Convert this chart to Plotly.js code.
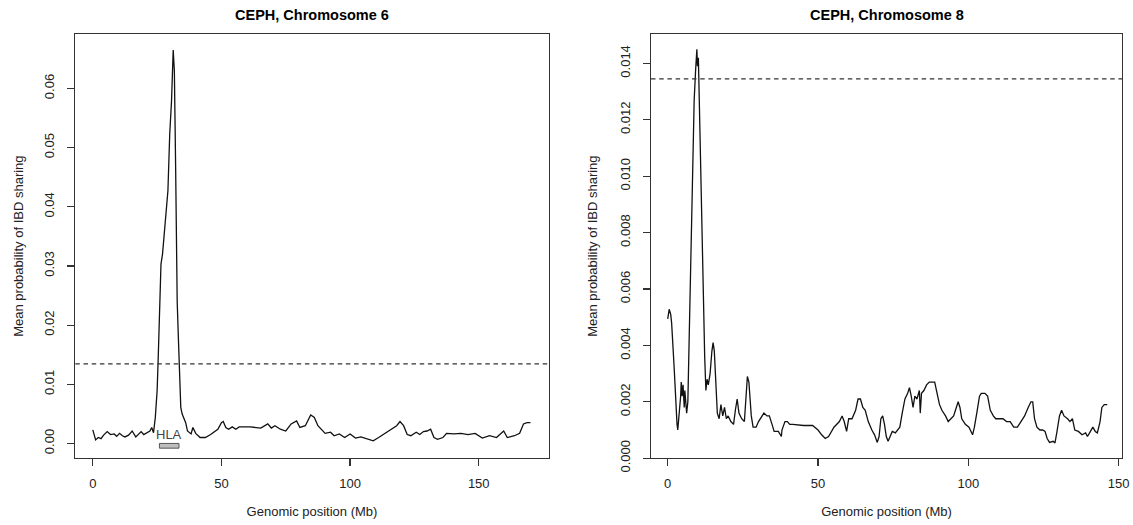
<!DOCTYPE html>
<html>
<head>
<meta charset="utf-8">
<script src="https://cdn.plot.ly/plotly-3.0.1.min.js"></script>
<style>
  html, body { margin: 0; padding: 0; background: #fff; }
  #chart { width: 1133px; height: 525px; }
</style>
</head>
<body>
<div id="chart"></div>
<script>
// ---- Data ----
const chr6Pos = [0, 1.1, 2.1, 3.2, 4.2, 5.6, 6.9, 8.3, 9.3, 10.4, 11.5, 12.5, 13.9, 15.3, 16.7, 17.8, 18.8, 19.8, 20.8, 22.2, 22.9, 23.6, 24.3, 25.0, 25.4, 26.0, 26.5, 27.1, 27.8, 28.5, 29.2, 29.9, 30.6, 31.25, 31.7, 32.2, 32.8, 33.3, 33.75, 34.2, 34.7, 36.1, 36.8, 38.2, 38.9, 40.0, 41.7, 43.75, 45.8, 47.2, 48.6, 50.0, 50.7, 51.7, 52.8, 54.2, 55.6, 56.9, 61.1, 65.3, 68.0, 69.4, 70.8, 72.9, 75.0, 77.1, 79.2, 80.5, 82.6, 84.7, 86.1, 87.5, 88.9, 90.3, 92.4, 93.8, 95.8, 97.9, 100.0, 102.1, 104.2, 107.0, 109.0, 111.1, 113.2, 115.3, 118.1, 119.4, 120.8, 122.2, 123.6, 125.7, 127.1, 128.5, 129.9, 131.3, 132.6, 134.0, 136.1, 137.5, 140.3, 143.1, 145.8, 148.6, 151.4, 154.2, 156.9, 159.7, 161.1, 163.9, 165.9, 167.4, 168.75, 170.1];
const chr6Ibd = [0.0023, 0.0006, 0.0010, 0.0008, 0.0014, 0.0020, 0.0015, 0.0016, 0.0012, 0.0017, 0.0013, 0.0011, 0.0014, 0.0021, 0.0011, 0.0016, 0.0020, 0.0015, 0.0017, 0.0021, 0.0027, 0.0018, 0.0044, 0.0089, 0.0140, 0.0240, 0.0303, 0.0320, 0.0354, 0.0382, 0.0427, 0.0523, 0.0579, 0.0665, 0.0630, 0.0466, 0.0240, 0.0174, 0.0128, 0.0061, 0.0050, 0.0035, 0.0021, 0.0016, 0.0027, 0.0017, 0.0010, 0.0010, 0.0015, 0.0019, 0.0024, 0.0035, 0.0037, 0.0027, 0.0024, 0.0028, 0.0024, 0.0028, 0.0028, 0.0026, 0.0033, 0.0026, 0.0030, 0.0024, 0.0021, 0.0033, 0.0038, 0.0027, 0.0030, 0.0048, 0.0044, 0.0030, 0.0024, 0.0017, 0.0019, 0.0013, 0.0016, 0.0010, 0.0016, 0.0009, 0.0011, 0.0007, 0.00045, 0.0010, 0.0016, 0.0021, 0.0030, 0.0037, 0.0030, 0.0015, 0.0013, 0.0019, 0.0015, 0.0020, 0.0021, 0.0024, 0.0010, 0.0007, 0.0010, 0.0017, 0.0016, 0.0017, 0.0015, 0.0017, 0.0009, 0.0013, 0.0010, 0.0021, 0.0010, 0.0013, 0.0017, 0.0033, 0.0035, 0.0035];

const chr8Pos = [0, 0.5, 1.0, 1.3, 2.15, 2.75, 3.1, 3.35, 3.7, 3.9, 4.3, 4.5, 4.8, 5.1, 5.5, 5.7, 6.1, 6.3, 6.7, 7.2, 7.8, 8.4, 8.8, 9.3, 9.7, 9.9, 10.2, 10.5, 11.1, 11.7, 12.3, 12.7, 13.1, 13.5, 14.1, 14.7, 15.1, 15.5, 15.9, 16.5, 17.1, 17.7, 18.3, 18.9, 19.5, 20.1, 21.0, 21.9, 22.5, 23.1, 23.7, 24.6, 25.5, 26.1, 26.5, 27.0, 27.8, 28.4, 29.4, 30.2, 31.4, 32.0, 33.0, 33.8, 34.7, 35.4, 36.8, 37.8, 38.0, 39.0, 39.8, 40.6, 41.6, 45.2, 48.2, 50.0, 51.2, 52.4, 53.5, 55.3, 57.1, 58.0, 58.7, 59.5, 60.2, 61.3, 62.5, 63.3, 64.1, 64.9, 65.7, 66.7, 67.9, 68.8, 69.7, 70.3, 70.9, 71.5, 72.1, 72.7, 73.3, 73.9, 74.7, 75.7, 76.5, 77.2, 78.0, 78.9, 79.8, 80.4, 81.0, 81.6, 82.2, 82.9, 83.7, 84.0, 84.4, 85.2, 86.1, 87.0, 88.0, 88.8, 89.4, 90.4, 91.2, 92.4, 93.3, 94.2, 95.1, 95.7, 96.6, 97.2, 97.8, 99.0, 100.2, 101.4, 102.0, 102.8, 103.7, 104.3, 105.5, 106.4, 107.3, 108.3, 109.1, 110.3, 111.5, 112.7, 113.9, 115.1, 116.3, 117.5, 118.7, 119.9, 120.8, 121.4, 122.0, 122.8, 123.8, 124.7, 125.5, 126.2, 127.0, 128.2, 128.8, 129.4, 130.3, 131.0, 131.8, 133.0, 133.8, 134.6, 135.4, 136.6, 137.8, 139.0, 139.6, 140.6, 141.4, 142.2, 142.9, 143.8, 144.4, 145.2, 146.2];
const chr8Ibd = [0.00494, 0.00528, 0.0051, 0.0048, 0.0032, 0.0015, 0.0012, 0.0010, 0.0014, 0.0016, 0.0022, 0.0027, 0.0022, 0.0026, 0.0018, 0.0024, 0.0020, 0.0016, 0.0020, 0.0043, 0.0079, 0.0103, 0.0127, 0.0138, 0.0145, 0.0139, 0.0142, 0.0127, 0.0097, 0.0061, 0.0036, 0.0024, 0.0028, 0.0026, 0.0030, 0.0038, 0.0041, 0.0038, 0.0029, 0.0016, 0.0014, 0.0019, 0.0015, 0.0018, 0.0014, 0.0015, 0.0013, 0.0012, 0.0017, 0.0021, 0.0016, 0.0014, 0.0013, 0.0022, 0.0029, 0.0027, 0.0015, 0.0011, 0.0011, 0.0013, 0.0015, 0.0016, 0.0015, 0.0015, 0.0012, 0.00095, 0.00095, 0.00077, 0.0010, 0.0013, 0.0013, 0.0012, 0.0012, 0.00116, 0.00116, 0.0010, 0.00083, 0.0007, 0.00077, 0.0011, 0.0013, 0.0015, 0.0013, 0.00095, 0.0014, 0.0014, 0.0017, 0.0021, 0.0021, 0.0018, 0.0017, 0.0013, 0.0010, 0.00083, 0.00056, 0.00077, 0.0014, 0.0015, 0.0012, 0.00077, 0.0006, 0.00077, 0.00095, 0.0009, 0.0010, 0.0011, 0.0016, 0.0021, 0.0023, 0.0025, 0.0022, 0.0018, 0.0022, 0.0021, 0.0024, 0.0016, 0.0023, 0.0024, 0.0026, 0.0027, 0.0027, 0.0027, 0.0024, 0.0019, 0.0017, 0.0015, 0.0013, 0.0014, 0.0015, 0.0017, 0.0020, 0.0018, 0.0014, 0.0012, 0.0011, 0.00083, 0.0011, 0.0016, 0.0022, 0.0023, 0.0023, 0.0022, 0.0017, 0.0015, 0.0014, 0.0014, 0.0014, 0.0013, 0.0013, 0.0011, 0.0011, 0.0013, 0.0015, 0.0018, 0.0020, 0.0020, 0.0014, 0.0011, 0.0010, 0.0010, 0.00095, 0.0007, 0.00056, 0.0006, 0.00054, 0.0009, 0.0015, 0.0017, 0.0015, 0.0014, 0.0013, 0.0014, 0.0010, 0.00095, 0.00083, 0.0009, 0.00077, 0.00095, 0.0011, 0.00095, 0.0009, 0.0013, 0.0018, 0.0019, 0.0019];

const threshold = 0.01345;          // genome-wide significance line
const hlaStart = 25.9, hlaEnd = 33.5; // HLA region on chromosome 6 (Mb)
const hlaLabel = "HLA";

const panelTitles = ["CEPH, Chromosome 6", "CEPH, Chromosome 8"];
const xTitle = "Genomic position (Mb)";
const yTitle = "Mean probability of IBD sharing";
const xTicks6 = [0, 50, 100, 150];
const xTicks8 = [0, 50, 100, 150];
const yTicks6 = [0, 0.01, 0.02, 0.03, 0.04, 0.05, 0.06];
const yTicks8 = [0, 0.002, 0.004, 0.006, 0.008, 0.010, 0.012, 0.014];

// ---- Styling ----
const FONT = "Liberation Sans, Arial, Helvetica, sans-serif";
const axisCol = "#333";
const baseX = {
  showline: true, mirror: true, linecolor: axisCol, linewidth: 1.2,
  ticks: "outside", ticklen: 7, tickwidth: 1.2, tickcolor: axisCol,
  showgrid: false, zeroline: false,
  tickfont: {family: FONT, size: 13, color: "#222"},
  ticklabelstandoff: 6,
  title: {text: xTitle, font: {family: FONT, size: 13, color: "#222"}, standoff: 16}
};
const baseY = {
  showline: true, mirror: true, linecolor: axisCol, linewidth: 1.2,
  ticks: "outside", ticklen: 7, tickwidth: 1.2, tickcolor: axisCol,
  showgrid: false, zeroline: false, tickangle: -90,
  tickfont: {family: FONT, size: 13, color: "#222"},
  ticklabelstandoff: 8,
  title: {text: yTitle, font: {family: FONT, size: 13, color: "#222"}, standoff: 15}
};

const traces = [
  {x: chr6Pos, y: chr6Ibd, xaxis: "x", yaxis: "y", type: "scatter", mode: "lines",
   line: {color: "#111", width: 1.3}, hoverinfo: "skip"},
  {x: chr8Pos, y: chr8Ibd, xaxis: "x2", yaxis: "y2", type: "scatter", mode: "lines",
   line: {color: "#111", width: 1.3}, hoverinfo: "skip"}
];

const yDom = [0.1272, 0.9352];
const layout = {
  width: 1133, height: 525,
  margin: {l: 0, r: 0, t: 0, b: 0},
  paper_bgcolor: "#fff", plot_bgcolor: "#fff",
  showlegend: false,
  xaxis: Object.assign({}, baseX, {domain: [0.06646, 0.4843], range: [-6.8, 177.2], tickvals: xTicks6, ticktext: xTicks6.map(String), anchor: "y"}),
  yaxis: Object.assign({}, baseY, {domain: yDom, range: [-0.0025, 0.0692], tickvals: yTicks6, ticktext: yTicks6.map(v => v.toFixed(2)), anchor: "x"}),
  xaxis2: Object.assign({}, baseX, {domain: [0.5746, 0.9903], range: [-5.55, 151.1], tickvals: xTicks8, ticktext: xTicks8.map(String), anchor: "y2"}),
  yaxis2: Object.assign({}, baseY, {domain: yDom, range: [0, 0.01504], tickvals: yTicks8, ticktext: yTicks8.map(v => v.toFixed(3)), anchor: "x2",
    title: {text: yTitle, font: {family: FONT, size: 13, color: "#222"}, standoff: 17}}),
  shapes: [
    {type: "line", xref: "x domain", yref: "y", x0: 0, x1: 1, y0: threshold, y1: threshold,
     line: {color: "#333", width: 1.4, dash: "4.5px,3.7px"}},
    {type: "line", xref: "x2 domain", yref: "y2", x0: 0, x1: 1, y0: threshold, y1: threshold,
     line: {color: "#333", width: 1.4, dash: "4.5px,3.7px"}},
    {type: "rect", xref: "x", yref: "y", x0: hlaStart, x1: hlaEnd, y0: -0.0008, y1: 0,
     fillcolor: "#bdbdbd", line: {color: "#555", width: 1}}
  ],
  annotations: [
    {text: "<b>" + panelTitles[0] + "</b>", xref: "paper", yref: "paper", x: (0.06646 + 0.4843) / 2, y: 1 - 15 / 525,
     xanchor: "center", yanchor: "middle", showarrow: false, font: {family: FONT, size: 14.5, color: "#000"}},
    {text: "<b>" + panelTitles[1] + "</b>", xref: "paper", yref: "paper", x: (0.5746 + 0.9903) / 2, y: 1 - 15 / 525,
     xanchor: "center", yanchor: "middle", showarrow: false, font: {family: FONT, size: 14.5, color: "#000"}},
    {text: hlaLabel, xref: "x", yref: "y", x: (hlaStart + hlaEnd) / 2, y: 0, xanchor: "center", yanchor: "bottom",
     showarrow: false, font: {family: FONT, size: 13, color: "#444"}, borderpad: 0}
  ]
};

Plotly.newPlot("chart", traces, layout, {staticPlot: true, displayModeBar: false});
</script>
</body>
</html>
